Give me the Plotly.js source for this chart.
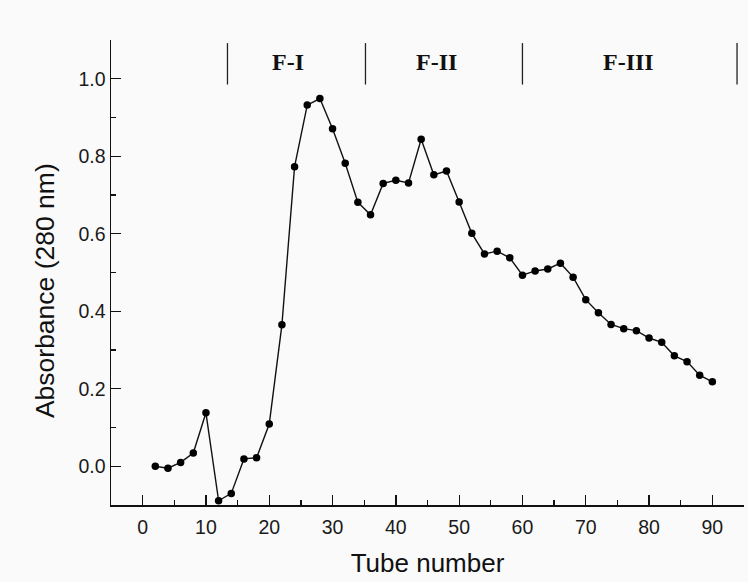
<!DOCTYPE html>
<html>
<head>
<meta charset="utf-8">
<script src="https://cdn.plot.ly/plotly-3.0.1.min.js"></script>
<style>html,body{margin:0;padding:0;background:#fafafa;}#chart{width:748px;height:582px;}</style>
</head>
<body>
<div id="chart"></div>
<script>
const tubes = [2,4,6,8,10,12,14,16,18,20,22,24,26,28,30,32,34,36,38,40,42,44,46,48,50,52,54,56,58,60,62,64,66,68,70,72,74,76,78,80,82,84,86,88,90];
const absorbance = [0.000,-0.005,0.010,0.034,0.138,-0.089,-0.070,0.019,0.022,0.109,0.365,0.773,0.932,0.949,0.871,0.782,0.681,0.649,0.730,0.738,0.731,0.844,0.752,0.762,0.682,0.601,0.548,0.555,0.538,0.493,0.504,0.509,0.524,0.488,0.430,0.396,0.366,0.355,0.350,0.331,0.320,0.285,0.270,0.235,0.218];
const dividerX = [13.4, 35.2, 60.0, 93.9];
const dividerY = [0.985, 1.092];
const fractionLabels = ["F-I", "F-II", "F-III"];
const fractionX = [22.9, 46.4, 76.8];
const fractionY = 1.043;
const xTickVals = [0,10,20,30,40,50,60,70,80,90];
const yTickVals = [0.0,0.2,0.4,0.6,0.8,1.0];

const shapes = dividerX.map(x => ({
  type: 'line', xref: 'x', yref: 'y', x0: x, x1: x, y0: dividerY[0], y1: dividerY[1],
  line: {color: '#222', width: 1.3}
}));
const annotations = fractionLabels.map((t, i) => ({
  x: fractionX[i], y: fractionY, xref: 'x', yref: 'y', text: '<b>' + t + '</b>', showarrow: false,
  yanchor: 'middle',
  font: {family: 'Liberation Serif, Times New Roman, serif', size: 24, color: '#111'}
}));
annotations.push({
  x: 0, y: 0.46, xref: 'paper', yref: 'paper', xanchor: 'center', yanchor: 'middle',
  xshift: -66, textangle: -90, showarrow: false, text: 'Absorbance (280 nm)',
  font: {family: 'Liberation Sans, Arial, sans-serif', size: 26.5, color: '#111'}
});

Plotly.newPlot('chart', [{
  x: tubes, y: absorbance, type: 'scatter', mode: 'lines+markers',
  line: {color: '#111', width: 1.4},
  marker: {color: '#000', size: 7.5},
  cliponaxis: false
}], {
  width: 748, height: 582,
  margin: {l: 111, r: 4, t: 40, b: 77},
  paper_bgcolor: '#fafafa', plot_bgcolor: '#fafafa',
  showlegend: false,
  shapes: shapes, annotations: annotations,
  xaxis: {
    range: [-5, 95], tickvals: xTickVals, ticks: 'inside', ticklen: 10, tickwidth: 1.3, tickcolor: '#111',
    showline: true, linecolor: '#111', linewidth: 1.5, showgrid: false, zeroline: false,
    minor: {dtick: 5, tick0: 0, ticks: 'inside', ticklen: 5, tickwidth: 1.3, tickcolor: '#111', showgrid: false},
    ticklabelstandoff: 4,
    tickfont: {family: 'Liberation Sans, Arial, sans-serif', size: 19.5, color: '#1a1a1a'},
    title: {text: 'Tube number', font: {family: 'Liberation Sans, Arial, sans-serif', size: 26, color: '#111'}, standoff: 17}
  },
  yaxis: {
    range: [-0.1, 1.1], tickvals: yTickVals, tickformat: '.1f', ticks: 'inside', ticklen: 10, tickwidth: 1.3, tickcolor: '#111',
    showline: true, linecolor: '#111', linewidth: 1.5, showgrid: false, zeroline: false,
    minor: {dtick: 0.1, tick0: 0, ticks: 'inside', ticklen: 5, tickwidth: 1.3, tickcolor: '#111', showgrid: false},
    tickfont: {family: 'Liberation Sans, Arial, sans-serif', size: 19.5, color: '#1a1a1a'}
  }
}, {displayModeBar: false, staticPlot: true});
</script>
</body>
</html>
